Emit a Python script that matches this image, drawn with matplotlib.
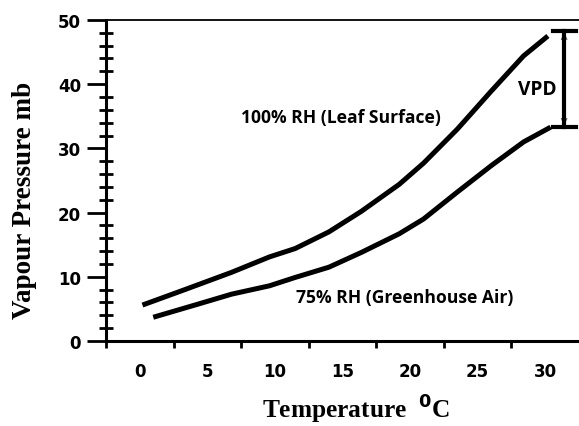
import matplotlib.pyplot as plt
from matplotlib.ticker import MultipleLocator, FixedLocator

# values
temp_leaf = [0.2, 3.2, 6.8, 9.6, 11.5, 14.0, 16.4, 19.2, 21.0, 23.5, 26.0, 28.4, 30.2]
vp_leaf = [5.6, 7.9, 10.7, 13.1, 14.4, 17.0, 20.2, 24.4, 27.7, 33.0, 38.9, 44.4, 47.5]

temp_air = [1.0, 4.4, 6.8, 9.6, 11.5, 14.0, 16.4, 19.2, 21.0, 23.5, 26.0, 28.4, 30.4]
vp_air = [3.7, 5.8, 7.3, 8.6, 9.9, 11.5, 13.8, 16.7, 19.0, 23.2, 27.3, 31.0, 33.3]

vpd_top = 48.3
vpd_bottom = 33.3
vpd_x = 31.4

x_labels = [0, 5, 10, 15, 20, 25, 30]

fig = plt.figure(figsize=(5.79, 4.27), dpi=100)
ax = fig.add_axes([0.183, 0.199, 0.817, 0.752])

ax.plot(temp_leaf, vp_leaf, color='black', lw=3.6, solid_capstyle='butt', solid_joinstyle='round')
ax.plot(temp_air, vp_air, color='black', lw=3.6, solid_capstyle='butt', solid_joinstyle='round')

ax.set_xlim(-2.5, 32.5)
ax.set_ylim(0, 50)

# labels at the whole numbers, ticks between them
ax.xaxis.set_major_locator(FixedLocator(x_labels))
ax.xaxis.set_minor_locator(FixedLocator([v - 2.5 for v in x_labels]))
ax.tick_params(axis='x', which='major', length=0, pad=15)
ax.tick_params(axis='x', which='minor', length=5, width=2, direction='out')

ax.yaxis.set_major_locator(MultipleLocator(10))
ax.yaxis.set_minor_locator(MultipleLocator(2))
ax.tick_params(axis='y', which='major', length=14, width=2, direction='out', pad=4)
ax.tick_params(axis='y', which='minor', length=10, width=2, direction='inout')

for lab in ax.get_xticklabels() + ax.get_yticklabels():
    lab.set_fontweight('bold')
    lab.set_fontsize(12)
    lab.set_family('DejaVu Sans')

ax.spines['right'].set_visible(False)
ax.spines['left'].set_linewidth(2.2)
ax.spines['bottom'].set_linewidth(2.2)
ax.spines['top'].set_linewidth(1.3)

ax.set_ylabel('Vapour Pressure mb', family='Liberation Serif', fontweight='bold',
              fontsize=19.5)
ax.yaxis.set_label_coords(-0.146, 0.442)
ax.set_xlabel(r'Temperature  $^{\mathbf{0}}$C', family='Liberation Serif',
              fontweight='bold', fontsize=18.3)
ax.xaxis.set_label_coords(0.529, -0.16)

ax.text(14.9, 34.9, '100% RH (Leaf Surface)', ha='center', va='center',
        family='Open Sans', fontweight='bold', fontsize=12.6)
ax.text(19.6, 6.9, '75% RH (Greenhouse Air)', ha='center', va='center',
        family='Open Sans', fontweight='bold', fontsize=12.6)
ax.text(29.4, 39.3, 'VPD', ha='center', va='center',
        family='Open Sans', fontweight='bold', fontsize=13.8)

# VPD bracket
ax.annotate('', xy=(vpd_x, vpd_top - 0.3), xytext=(vpd_x, vpd_bottom + 0.3),
            arrowprops=dict(arrowstyle='<->', color='0.35', lw=0.8, shrinkA=0, shrinkB=0),
            annotation_clip=False, zorder=2)
ax.plot([vpd_x, vpd_x], [vpd_top, vpd_bottom], color='black', lw=3, clip_on=False, zorder=3)
ax.plot([vpd_x - 0.8, vpd_x + 0.9], [vpd_top, vpd_top], color='black', lw=3, clip_on=False, zorder=3)
ax.plot([vpd_x - 0.8, vpd_x + 0.9], [vpd_bottom, vpd_bottom], color='black', lw=3, clip_on=False, zorder=3)

fig.savefig('out.png', dpi=100)
